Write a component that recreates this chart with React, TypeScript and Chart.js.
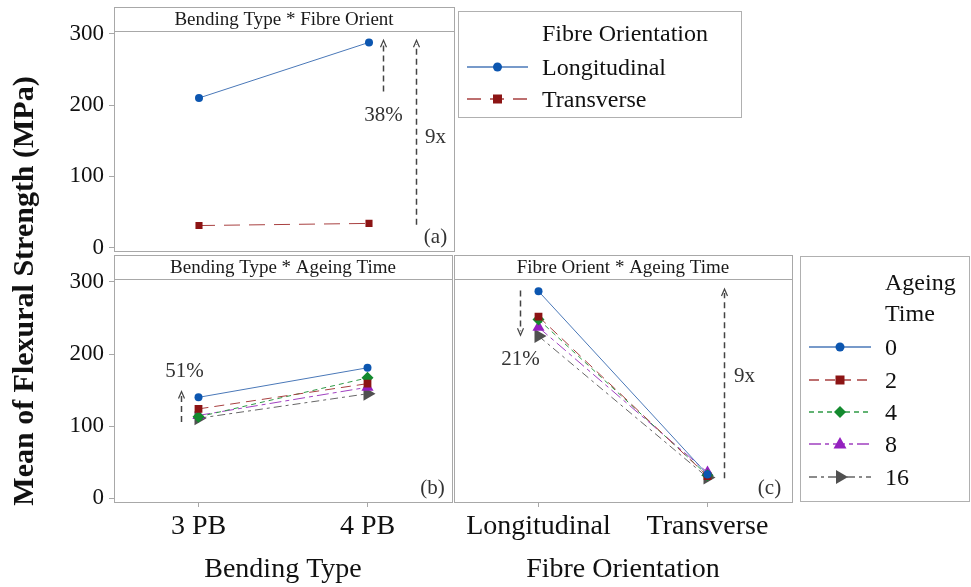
import React, { useEffect, useRef } from "react";
import { Chart, registerables } from "chart.js";

Chart.register(...registerables);

// ---------- data ----------
const bendingTypes = ["3 PB", "4 PB"];
const fibreOrientations = ["Longitudinal", "Transverse"];
const ageingTimes = ["0", "2", "4", "8", "16"];
const yTickValues = [0, 100, 200, 300];

// (a) Bending Type * Fibre Orient
const longitudinalByBending = [210, 288];
const transverseByBending = [31, 34];

// (b) Bending Type * Ageing Time
const age0ByBending = [140, 181];
const age2ByBending = [124, 159];
const age4ByBending = [113, 167];
const age8ByBending = [115, 154];
const age16ByBending = [111, 145];

// (c) Fibre Orient * Ageing Time
const age0ByFibre = [287, 33];
const age2ByFibre = [252, 31];
const age4ByFibre = [248, 32];
const age8ByFibre = [237, 36];
const age16ByFibre = [225, 29];

// annotations (in data units)
const notesA = [
  { kind: "arrow", x: 1.082, from: 219, to: 291 },
  { kind: "text", x: 1.082, y: 185, text: "38%" },
  { kind: "arrow", x: 1.276, from: 32, to: 291 },
  { kind: "text", x: 1.39, y: 155, text: "9x" },
  { kind: "text", x: 1.39, y: 14, text: "(a)" },
];
const notesB = [
  { kind: "arrow", x: -0.106, from: 106, to: 148 },
  { kind: "text", x: -0.085, y: 176, text: "51%" },
  { kind: "text", x: 1.382, y: 14, text: "(b)" },
];
const notesC = [
  { kind: "arrow", x: -0.11, from: 288, to: 226 },
  { kind: "text", x: -0.107, y: 192, text: "21%" },
  { kind: "arrow", x: 1.099, from: 28, to: 290 },
  { kind: "text", x: 1.217, y: 169, text: "9x" },
  { kind: "text", x: 1.364, y: 14, text: "(c)" },
];

// ---------- styles ----------
const SERIF = '"Liberation Serif", "Times New Roman", serif';
const FRAME = "#a8a8a8";
const HEADER_H = 24;
const Y_MIN = -5;
const Y_MAX = 304;

type Style = { line: string; fill: string; dash: number[]; shape: string; r: number; rot?: number };

const STYLE_LONG: Style = { line: "#4a78b8", fill: "#0c56b0", dash: [], shape: "circle", r: 4 };
const STYLE_TRANS: Style = { line: "#a84040", fill: "#8c1414", dash: [16, 9], shape: "rect", r: 5 };
const AGE_STYLES: Style[] = [
  { line: "#4a78b8", fill: "#0c56b0", dash: [], shape: "circle", r: 4 },
  { line: "#a84040", fill: "#8c1414", dash: [10, 6], shape: "rect", r: 5.5 },
  { line: "#2f9a46", fill: "#138a2e", dash: [5, 4], shape: "rectRot", r: 6 },
  { line: "#a040c0", fill: "#9420bf", dash: [12, 4, 4, 4], shape: "triangle", r: 7 },
  { line: "#666666", fill: "#505050", dash: [8, 4, 3, 4], shape: "triangle", r: 8, rot: 90 },
];

const ageByBending = [age0ByBending, age2ByBending, age4ByBending, age8ByBending, age16ByBending];
const ageByFibre = [age0ByFibre, age2ByFibre, age4ByFibre, age8ByFibre, age16ByFibre];

function series(label: string, data: number[], st: Style) {
  return {
    label,
    data,
    borderColor: st.line,
    backgroundColor: st.fill,
    pointBackgroundColor: st.fill,
    pointBorderColor: st.fill,
    pointBorderWidth: 0,
    borderWidth: 1,
    borderDash: st.dash,
    pointStyle: st.shape,
    pointRadius: st.r,
    pointRotation: st.rot || 0,
    tension: 0,
    fill: false,
  };
}

const decorPlugin = {
  id: "decor",
  afterDraw(chart: any, _args: any, opts: any) {
    const { ctx, chartArea: ca } = chart;
    const xs = chart.scales.x;
    const ys = chart.scales.y;
    ctx.save();
    ctx.setLineDash([]);
    ctx.strokeStyle = FRAME;
    ctx.lineWidth = 1;
    const top = Math.round(ca.top - HEADER_H);
    const l = Math.round(ca.left);
    const r = Math.round(ca.right);
    const b = Math.round(ca.bottom);
    ctx.strokeRect(l + 0.5, top + 0.5, r - l, b - top);
    ctx.beginPath();
    ctx.moveTo(l, Math.round(ca.top) + 0.5);
    ctx.lineTo(r, Math.round(ca.top) + 0.5);
    ctx.stroke();
    ctx.fillStyle = "#1a1a1a";
    ctx.font = `19px ${SERIF}`;
    ctx.textAlign = "center";
    ctx.textBaseline = "middle";
    ctx.fillText(opts.header, (ca.left + ca.right) / 2, top + HEADER_H / 2 + 1);
    for (const n of opts.notes) {
      const px = Math.round(xs.getPixelForValue(n.x)) + 0.5;
      if (n.kind === "arrow") {
        const y0 = ys.getPixelForValue(n.from);
        const y1 = ys.getPixelForValue(n.to);
        const dir = y1 < y0 ? 1 : -1;
        ctx.strokeStyle = "#444";
        ctx.lineWidth = 1.5;
        ctx.setLineDash([6, 4]);
        ctx.beginPath();
        ctx.moveTo(px, y0);
        ctx.lineTo(px, y1 + dir * 4);
        ctx.stroke();
        ctx.setLineDash([]);
        ctx.lineWidth = 1.2;
        ctx.beginPath();
        ctx.moveTo(px - 3, y1 + dir * 7);
        ctx.lineTo(px, y1);
        ctx.lineTo(px + 3, y1 + dir * 7);
        ctx.stroke();
      } else {
        ctx.fillStyle = "#333";
        ctx.font = `21px ${SERIF}`;
        ctx.textAlign = "center";
        ctx.textBaseline = "middle";
        ctx.fillText(n.text, px, ys.getPixelForValue(n.y));
      }
    }
    ctx.restore();
  },
};

function yAxis(show: boolean) {
  if (!show) {
    return { display: false, min: Y_MIN, max: Y_MAX };
  }
  return {
    display: true,
    min: Y_MIN,
    max: Y_MAX,
    afterBuildTicks: (s: any) => {
      s.ticks = yTickValues.map((v) => ({ value: v }));
    },
    afterFit: (s: any) => {
      s.width = 114;
    },
    grid: { drawOnChartArea: false, drawTicks: true, tickLength: 5, color: FRAME },
    border: { display: true, color: FRAME },
    ticks: { color: "#111", font: { family: SERIF, size: 23 }, padding: 5 },
  };
}

function xAxis(labels: string[], title: string | null) {
  if (!title) {
    return { type: "category", labels, offset: true, display: false };
  }
  return {
    type: "category",
    labels,
    offset: true,
    grid: { drawOnChartArea: false, drawTicks: true, tickLength: 5, color: FRAME, offset: false },
    border: { display: true, color: FRAME },
    ticks: { color: "#111", font: { family: SERIF, size: 28 }, padding: 3, maxRotation: 0, autoSkip: false },
    title: { display: true, text: title, color: "#111", font: { family: SERIF, size: 28 }, padding: { top: 0, bottom: 1 } },
    afterFit: (s: any) => {
      s.height = 85;
    },
  };
}

function makeConfig(
  labels: string[],
  datasets: any[],
  xTitle: string | null,
  showY: boolean,
  padding: any,
  header: string,
  notes: any[]
): any {
  return {
    type: "line",
    data: { labels, datasets },
    options: {
      responsive: false,
      animation: false,
      events: [],
      layout: { padding },
      scales: { x: xAxis(labels, xTitle), y: yAxis(showY) },
      plugins: {
        legend: { display: false },
        tooltip: { enabled: false },
        decor: { header, notes },
      },
    },
    plugins: [decorPlugin],
  };
}

function Panel(props: { left: number; top: number; width: number; height: number; make: () => any }) {
  const ref = useRef<HTMLCanvasElement>(null);
  useEffect(() => {
    const chart = new Chart(ref.current as HTMLCanvasElement, props.make());
    return () => chart.destroy();
  }, []);
  return (
    <canvas
      ref={ref}
      width={props.width}
      height={props.height}
      style={{ position: "absolute", left: props.left, top: props.top, width: props.width, height: props.height }}
    />
  );
}

function Marker({ st, cx, cy }: { st: Style; cx: number; cy: number }) {
  if (st.shape === "circle") return <circle cx={cx} cy={cy} r={4.5} fill={st.fill} />;
  if (st.shape === "rect") return <rect x={cx - 4.5} y={cy - 4.5} width={9} height={9} fill={st.fill} />;
  if (st.shape === "rectRot")
    return <polygon points={`${cx},${cy - 6} ${cx + 6},${cy} ${cx},${cy + 6} ${cx - 6},${cy}`} fill={st.fill} />;
  if (st.rot)
    return <polygon points={`${cx + 8},${cy} ${cx - 4},${cy - 7} ${cx - 4},${cy + 7}`} fill={st.fill} />;
  return <polygon points={`${cx},${cy - 7} ${cx + 6.5},${cy + 4.5} ${cx - 6.5},${cy + 4.5}`} fill={st.fill} />;
}

function LegendEntry({ st, x0, x1, y, label, tx }: { st: Style; x0: number; x1: number; y: number; label: string; tx: number }) {
  return (
    <g>
      <line x1={x0} x2={x1} y1={y} y2={y} stroke={st.line} strokeWidth={1.3} strokeDasharray={st.dash.length ? st.dash.join(" ") : undefined} />
      <Marker st={st} cx={(x0 + x1) / 2} cy={y} />
      <text x={tx} y={y} dominantBaseline="central" fontFamily={SERIF} fontSize={24} fill="#111">
        {label}
      </text>
    </g>
  );
}

export default function App() {
  const legend2Ys = [347, 380, 412, 444, 477];
  return (
    <div style={{ position: "absolute", left: 0, top: 0, width: 971, height: 587, background: "#fff", overflow: "hidden" }}>
      <Panel
        left={0}
        top={0}
        width={460}
        height={270}
        make={() =>
          makeConfig(
            bendingTypes,
            [
              series(fibreOrientations[0], longitudinalByBending, STYLE_LONG),
              series(fibreOrientations[1], transverseByBending, STYLE_TRANS),
            ],
            null,
            true,
            { top: 31, right: 6, bottom: 16, left: 0 },
            "Bending Type * Fibre Orient",
            notesA
          )
        }
      />
      <Panel
        left={0}
        top={240}
        width={460}
        height={347}
        make={() =>
          makeConfig(
            bendingTypes,
            ageingTimes.map((a, i) => series(a, ageByBending[i], AGE_STYLES[i])),
            "Bending Type",
            true,
            { top: 39, right: 6, bottom: 0, left: 0 },
            "Bending Type * Ageing Time",
            notesB
          )
        }
      />
      <Panel
        left={440}
        top={240}
        width={360}
        height={347}
        make={() =>
          makeConfig(
            fibreOrientations,
            ageingTimes.map((a, i) => series(a, ageByFibre[i], AGE_STYLES[i])),
            "Fibre Orientation",
            false,
            { top: 39, right: 7, bottom: 0, left: 14 },
            "Fibre Orient * Ageing Time",
            notesC
          )
        }
      />
      <div
        style={{
          position: "absolute",
          left: 23,
          top: 291,
          transform: "translate(-50%, -50%) rotate(-90deg)",
          fontFamily: SERIF,
          fontWeight: "bold",
          fontSize: 30,
          whiteSpace: "nowrap",
          color: "#111",
        }}
      >
        Mean of Flexural Strength (MPa)
      </div>
      <svg width={971} height={587} style={{ position: "absolute", left: 0, top: 0, pointerEvents: "none" }}>
        <rect x={458.5} y={11.5} width={283} height={106} fill="none" stroke="#b0b0b0" strokeWidth={1} />
        <text x={542} y={33} dominantBaseline="central" fontFamily={SERIF} fontSize={24} fill="#111">
          Fibre Orientation
        </text>
        <LegendEntry st={STYLE_LONG} x0={467} x1={528} y={67} label={fibreOrientations[0]} tx={542} />
        <LegendEntry st={{ ...STYLE_TRANS, dash: [14, 9] }} x0={467} x1={528} y={99} label={fibreOrientations[1]} tx={542} />

        <rect x={800.5} y={256.5} width={169} height={245} fill="none" stroke="#b0b0b0" strokeWidth={1} />
        <text x={885} y={282} dominantBaseline="central" fontFamily={SERIF} fontSize={24} fill="#111">
          Ageing
        </text>
        <text x={885} y={313} dominantBaseline="central" fontFamily={SERIF} fontSize={24} fill="#111">
          Time
        </text>
        {ageingTimes.map((a, i) => (
          <LegendEntry key={a} st={AGE_STYLES[i]} x0={809} x1={871} y={legend2Ys[i]} label={a} tx={885} />
        ))}
      </svg>
    </div>
  );
}
